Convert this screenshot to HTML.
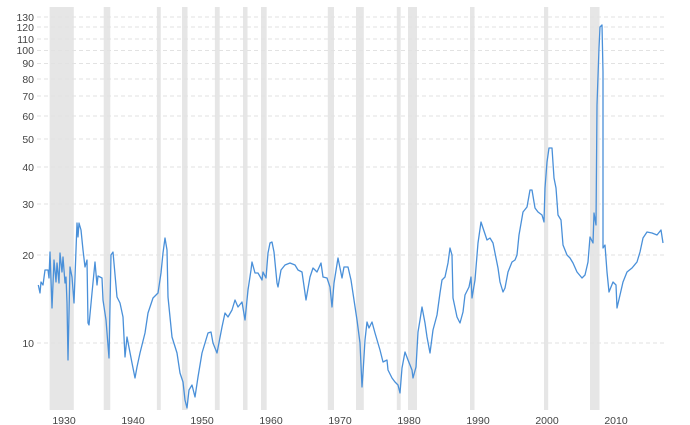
<!DOCTYPE html>
<html><head><style>body{margin:0;background:#fff}svg{display:block}text{font-family:"Liberation Sans",sans-serif;font-size:10.5px;fill:#444}</style></head><body>
<svg width="690" height="425" viewBox="0 0 690 425">
<g fill="#e6e6e6">
<rect x="49.6" y="7" width="24.2" height="403"/><rect x="103.7" y="7" width="6.6" height="403"/><rect x="156.9" y="7" width="3.9" height="403"/><rect x="182" y="7" width="5.5" height="403"/><rect x="214.9" y="7" width="4.8" height="403"/><rect x="243" y="7" width="4.5" height="403"/><rect x="261" y="7" width="5.7" height="403"/><rect x="327.8" y="7" width="6.2" height="403"/><rect x="356" y="7" width="7.8" height="403"/><rect x="396.8" y="7" width="3.9" height="403"/><rect x="408" y="7" width="9" height="403"/><rect x="470" y="7" width="4.5" height="403"/><rect x="544" y="7" width="4.2" height="403"/><rect x="590" y="7" width="9.5" height="403"/>
</g>
<g stroke="#e2e2e2" stroke-dasharray="4,3" stroke-width="1">
<line x1="37" x2="665" y1="17" y2="17"/><line x1="37" x2="665" y1="27" y2="27"/><line x1="37" x2="665" y1="39" y2="39"/><line x1="37" x2="665" y1="50.5" y2="50.5"/><line x1="37" x2="665" y1="63.5" y2="63.5"/><line x1="37" x2="665" y1="79" y2="79"/><line x1="37" x2="665" y1="96" y2="96"/><line x1="37" x2="665" y1="116" y2="116"/><line x1="37" x2="665" y1="139" y2="139"/><line x1="37" x2="665" y1="167" y2="167"/><line x1="37" x2="665" y1="204" y2="204"/><line x1="37" x2="665" y1="255" y2="255"/><line x1="37" x2="665" y1="343" y2="343"/>
</g>
<g text-anchor="end">
<text x="34" y="21">130</text><text x="34" y="31">120</text><text x="34" y="43">110</text><text x="34" y="54">100</text><text x="34" y="67">90</text><text x="34" y="83">80</text><text x="34" y="100">70</text><text x="34" y="120">60</text><text x="34" y="143">50</text><text x="34" y="171">40</text><text x="34" y="208">30</text><text x="34" y="259">20</text><text x="34" y="347">10</text>
</g>
<g text-anchor="middle">
<text x="64" y="424">1930</text><text x="133" y="424">1940</text><text x="202" y="424">1950</text><text x="271" y="424">1960</text><text x="340" y="424">1970</text><text x="409" y="424">1980</text><text x="478" y="424">1990</text><text x="547" y="424">2000</text><text x="616" y="424">2010</text>
</g>
<polyline fill="none" stroke="#4a90d9" stroke-width="1.3" stroke-linejoin="round" points="38.3,285 40,293 41,282 43,285 45,270 48,270 49,278 50,252 52,308 54,260 56,282 57,263 59,283 60,253 62,272 63,257 65,283 66,277 67,303 68,360 70,267 72,277 74,303 75,277 77,223 78,237 79,223 81,230 83,250 85,267 87,260 88,323 89,325 92,293 95,262 97,285 98,276 102,278 103,300 106,320 109,358 111,255 113,252 117,297 120,303 123,317 125,357 127,337 132,363 135,378 137,367 140,353 145,333 148,313 153,298 158,293 161,273 163,253 165,238 167,250 168,297 170,317 172,337 177,353 180,373 183,382 185,400 187,408 189,390 192,385 195,397 198,377 202,353 205,343 208,333 211,332 213,343 217,353 222,327 225,313 228,317 232,310 235,300 238,307 242,302 245,320 248,290 251,270 252,262 255,273 258,273 262,280 263,272 266,278 268,253 270,243 272,242 274,252 277,283 278,287 281,270 285,265 290,263 295,265 298,270 302,272 306,300 310,277 313,268 317,272 321,263 323,277 327,278 330,287 332,307 334,283 338,258 342,278 344,267 348,267 351,280 354,300 357,320 360,343 362,387 363,373 365,340 367,322 369,328 372,322 375,333 380,350 383,362 387,360 388,370 392,378 395,382 398,385 400,393 402,368 405,352 408,360 412,370 413,378 416,367 418,332 420,320 422,307 425,323 427,337 430,353 433,330 437,315 440,293 442,280 445,277 448,263 450,248 452,255 453,298 457,317 460,323 463,312 465,295 469,287 471,277 472,298 475,280 478,243 481,222 483,228 487,240 490,238 493,243 498,268 500,282 503,292 505,288 508,272 512,262 515,260 517,255 519,235 523,212 527,207 530,190 532,190 535,208 538,212 542,215 544,222 545,188 547,162 549,148 552,148 554,178 556,188 558,215 561,220 563,245 567,255 570,258 573,263 577,272 582,278 585,275 588,262 590,237 593,243 594,213 596,225 597,105 599,48 600,27 602,25 603,72 603,248 605,245 607,272 609,292 613,282 616,285 617,308 620,295 623,282 627,272 632,268 637,262 640,252 643,238 647,232 652,233 657,235 661,230 663,243"/>
</svg>
</body></html>
